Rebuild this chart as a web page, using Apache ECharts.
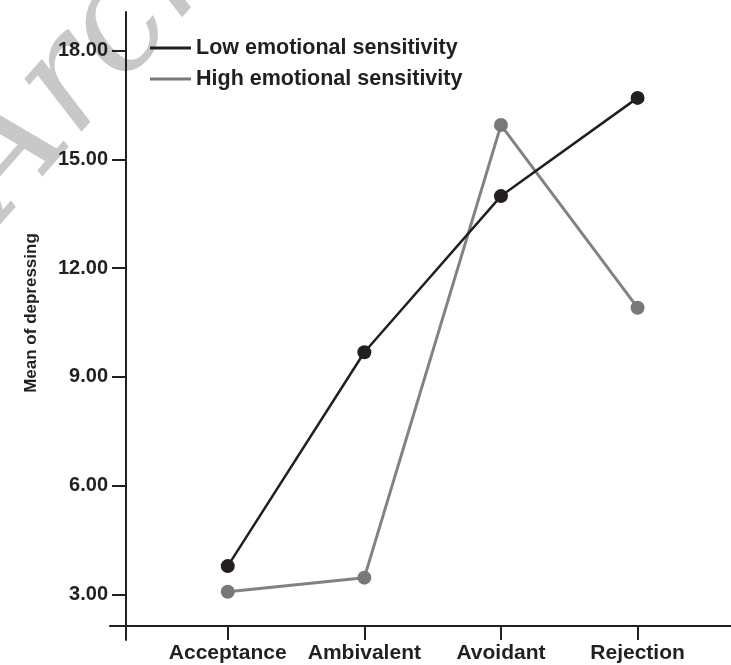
<!DOCTYPE html>
<html>
<head>
<meta charset="utf-8">
<script src="https://cdn.jsdelivr.net/npm/echarts@6/dist/echarts.min.js"></script>
<style>
  html, body { margin: 0; padding: 0; background: #fff; }
  #chart { width: 731px; height: 665px; }
</style>
</head>
<body>
<div id="chart"></div>
<script>
// categories on the x axis
const categories = ['Acceptance', 'Ambivalent', 'Avoidant', 'Rejection'];
// mean of depressing per group
const lowSensitivity = [3.78, 9.68, 13.99, 16.70];
const highSensitivity = [3.07, 3.46, 15.95, 10.91];
// y tick labels
const yTicks = [3, 6, 9, 12, 15, 18];

const seriesNames = ['Low emotional sensitivity', 'High emotional sensitivity'];
const dark = '#231f20';
const gray = '#808285';
const font = 'Liberation Sans, Arial, sans-serif';

const catIdx = categories.map((c, i) => i);
const toPoints = vals => vals.map((v, i) => [i, v]);

const chart = echarts.init(document.getElementById('chart'));

chart.setOption({
  animation: false,
  backgroundColor: '#fff',
  graphic: [{
    // faint watermark behind the plot
    type: 'text',
    z: -10,
    x: 30,
    y: 245,
    rotation: 0.85,
    style: {
      text: 'Archive',
      font: 'italic 150px "DejaVu Serif", serif',
      fill: '#c8c8c8',
      textVerticalAlign: 'bottom'
    }
  }],
  grid: { left: 110, right: 0, top: 12, bottom: 25, containLabel: false },
  legend: {
    orient: 'vertical',
    left: 145,
    top: 32,
    itemWidth: 41,
    itemHeight: 3,
    itemGap: 9,
    icon: 'rect',
    data: seriesNames,
    textStyle: { fontFamily: font, fontWeight: 'bold', fontSize: 21.5, lineHeight: 21, color: dark }
  },
  xAxis: {
    type: 'value',
    min: -0.862,
    max: 3.684,
    offset: -14,
    splitLine: { show: false },
    axisLine: { show: true, onZero: false, lineStyle: { color: dark, width: 2 } },
    axisTick: { show: true, length: 14, customValues: catIdx, lineStyle: { color: dark, width: 2 } },
    axisLabel: {
      customValues: catIdx,
      formatter: v => categories[Math.round(v)],
      margin: 17,
      fontFamily: font,
      fontWeight: 'bold',
      fontSize: 21,
      color: dark
    }
  },
  yAxis: {
    type: 'value',
    min: 1.74,
    max: 19.07,
    offset: -16,
    name: 'Mean of depressing',
    nameLocation: 'middle',
    nameGap: 86,
    nameTextStyle: { fontFamily: font, fontWeight: 'bold', fontSize: 17, color: dark, padding: [0, 0, 0, 26] },
    splitLine: { show: false },
    axisLine: { show: true, onZero: false, lineStyle: { color: dark, width: 2 } },
    axisTick: { show: true, length: 14, customValues: yTicks, lineStyle: { color: dark, width: 2 } },
    axisLabel: {
      customValues: yTicks,
      formatter: v => v.toFixed(2),
      margin: 18,
      fontFamily: font,
      fontWeight: 'bold',
      fontSize: 20,
      color: dark
    }
  },
  series: [
    {
      name: seriesNames[0],
      type: 'line',
      z: 4,
      data: toPoints(lowSensitivity),
      symbol: 'circle',
      symbolSize: 14,
      color: dark,
      lineStyle: { color: dark, width: 2.5 },
      itemStyle: { color: dark }
    },
    {
      name: seriesNames[1],
      type: 'line',
      z: 3,
      data: toPoints(highSensitivity),
      symbol: 'circle',
      symbolSize: 14,
      color: gray,
      lineStyle: { color: gray, width: 3 },
      itemStyle: { color: '#77787b' }
    }
  ]
});
</script>
</body>
</html>
